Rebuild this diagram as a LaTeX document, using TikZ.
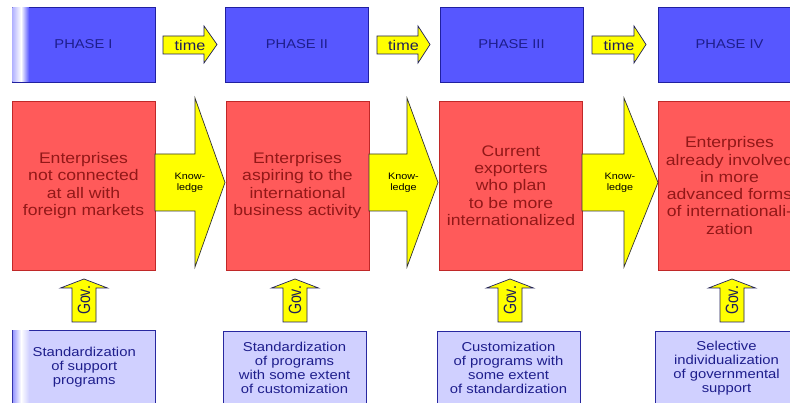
\documentclass[tikz,border=0pt]{standalone}
\usepackage{graphicx}
\usepackage{fontspec}
\setmainfont{Liberation Sans}[FakeStretch=1.15]
\newfontfamily\govfont{Liberation Sans}

\definecolor{phasefill}{HTML}{5757FF}
\definecolor{phaseline}{HTML}{2020A0}
\definecolor{phasetext}{HTML}{1E1E8C}
\definecolor{groupfill}{HTML}{FF5A5A}
\definecolor{groupline}{HTML}{C02828}
\definecolor{grouptext}{HTML}{921818}
\definecolor{arrowfill}{HTML}{FFFF00}
\definecolor{arrowline}{HTML}{20205A}
\definecolor{policyfill}{HTML}{D0D0FF}
\definecolor{policyline}{HTML}{2828A0}
\definecolor{policytext}{HTML}{1E1E8C}

\tikzset{
  phasebox/.style={draw=phaseline, fill=phasefill, line width=0.8pt, inner sep=0pt,
    minimum width=143pt, minimum height=75pt, text=phasetext,
    font=\fontsize{12.8}{14}\selectfont},
  groupbox/.style={draw=groupline, fill=groupfill, line width=0.8pt, inner sep=0pt,
    minimum width=143pt, minimum height=169pt, text=grouptext, align=center,
    font=\fontsize{15.3}{17.3}\selectfont},
  policybox/.style={draw=policyline, fill=policyfill, line width=0.8pt, inner sep=0pt,
    minimum width=143pt, minimum height=74pt, text=policytext, align=center,
    font=\fontsize{12.9}{14.2}\selectfont},
  timeshape/.style={draw=arrowline, fill=arrowfill, line width=0.7pt, line join=miter},
  knowshape/.style={draw=black!80, fill=arrowfill, line width=0.7pt, line join=miter},
  govshape/.style={draw=arrowline, fill=arrowfill, line width=0.7pt, line join=miter},
  timelabel/.style={inner sep=0pt, text=arrowline, font=\fontsize{14.1}{15}\selectfont},
  knowlabel/.style={inner sep=0pt, align=center, text=black, font=\fontsize{9.4}{11}\selectfont},
  govlabel/.style={inner sep=0pt, rotate=90, text=arrowline, font=\govfont\fontsize{14.2}{15}\selectfont},
}

% block arrow between two phase headers: name, start x, head start x, tip x
\newcommand{\timearrow}[4]{%
  \draw[timeshape] (#2,36) -- (#3,36) -- (#3,26) -- (#4,44.5) -- (#3,63) -- (#3,54) -- (#2,54) -- cycle;
  \node[timelabel] (#1) at ({(#2+#4)/2},45) {time};}

% wide block arrow between two enterprise groups
\newcommand{\knowarrow}[4]{%
  \draw[knowshape] (#2,154) -- (#3,154) -- (#3,98) -- (#4,182.5) -- (#3,267) -- (#3,211) -- (#2,211) -- cycle;
  \node[knowlabel] (#1) at ({(#2+#4)/2},182.5) {Know-\\ledge};}

% upward arrow from a support policy to its group: name, centre x
\newcommand{\govarrow}[2]{%
  \draw[govshape] (#2-12,322) -- (#2-12,288) -- (#2-23.5,288) -- (#2,279) -- (#2+23.5,288) -- (#2+12,288) -- (#2+12,322) -- cycle;
  \node[govlabel] (#1) at (#2,300.5) {\scalebox{1}[1.25]{Gov.}};}

\begin{document}
\begin{tikzpicture}[x=1pt, y=-1pt]
  \useasboundingbox (0,0) rectangle (790,403);
  \fill[white] (0,0) rectangle (790,403);
  \clip (0,0) rectangle (790,403);

  % phase headers
  \node[phasebox] (ph1) at (83.5,44.5) {};
  \shade[left color=phasefill!45!white, right color=white] (12.4,7.4) rectangle (21,81.6);
  \shade[left color=white, right color=phasefill] (21,7.4) rectangle (29,81.6);
  \node[text=phasetext, font=\fontsize{12.8}{14}\selectfont] at (ph1.center) {PHASE I};
  \node[phasebox] (ph2) at (297,44.5) {PHASE II};
  \node[phasebox] (ph3) at (511.5,44.5) {PHASE III};
  \node[phasebox] (ph4) at (729.5,44.5) {PHASE IV};

  % enterprise groups
  \node[groupbox] (g1) at (83.5,185.5) {Enterprises\\not connected\\at all with\\foreign markets};
  \node[groupbox] (g2) at (297.5,185.5) {Enterprises\\aspiring to the\\international\\business activity};
  \node[groupbox] (g3) at (511,185.5) {Current\\exporters\\who plan\\to be more\\internationalized};
  \node[groupbox] (g4) at (729.5,185.5) {Enterprises\\already involved\\in more\\advanced forms\\of internationali-\\zation};

  % support policies
  \node[policybox] (s1) at (84.25,367.5) {};
  \shade[left color=policyfill!55!phasefill, right color=white] (12.9,330.9) rectangle (21,404);
  \shade[left color=white, right color=policyfill] (21,330.9) rectangle (29,404);
  \node[text=policytext, align=center, font=\fontsize{12.9}{14.2}\selectfont] at (84.25,367) {Standardization\\of support\\programs};
  \node[policybox] (s2) at (294.5,368) {Standardization\\of programs\\with some extent\\of customization};
  \node[policybox] (s3) at (508.5,368) {Customization\\of programs with\\some extent\\of standardization};
  \node[policybox] (s4) at (726.5,368) {Selective\\individualization\\of governmental\\support};

  % time arrows between phases
  \timearrow{t12}{163}{204}{217}
  \timearrow{t23}{377}{418}{430}
  \timearrow{t34}{592}{634}{646}

  % knowledge arrows between groups
  \knowarrow{k12}{155}{195}{225}
  \knowarrow{k23}{369}{407}{438}
  \knowarrow{k34}{582}{624}{658}

  % government support arrows
  \govarrow{gv1}{84}
  \govarrow{gv2}{295}
  \govarrow{gv3}{510}
  \govarrow{gv4}{732}
\end{tikzpicture}
\end{document}
